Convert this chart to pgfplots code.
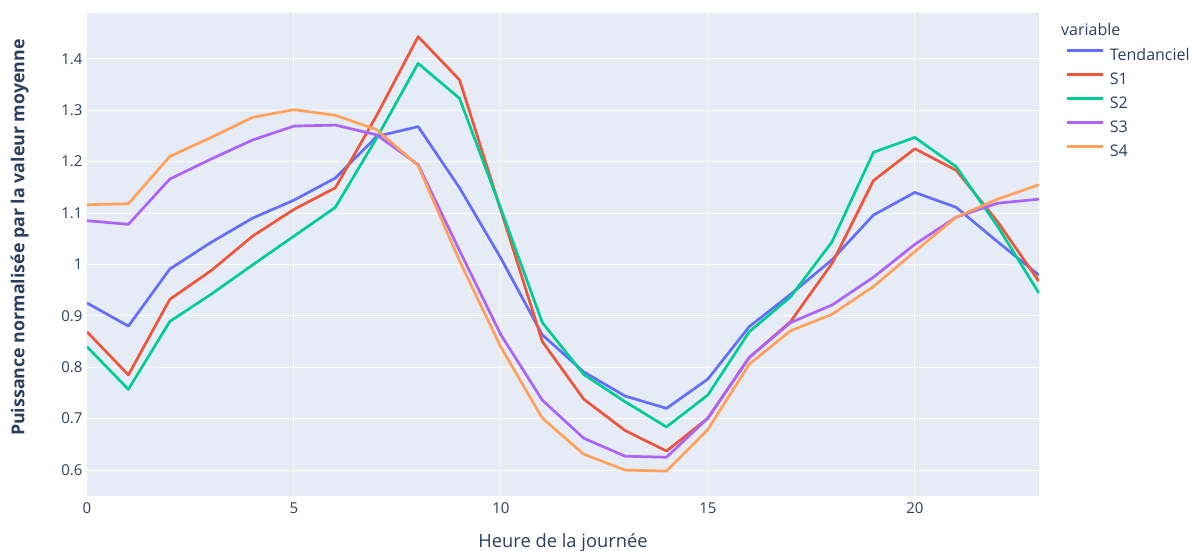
\documentclass[border=0pt]{standalone}
\usepackage{fontspec}
\setmainfont{Open Sans}
\usepackage{pgfplots}
\usepackage{pgfplotstable}
\pgfplotsset{compat=1.18}
\definecolor{pbg}{HTML}{E5ECF6}
\definecolor{ptext}{HTML}{2A3F5F}
\definecolor{cT}{HTML}{636EFA}
\definecolor{cA}{HTML}{EF553B}
\definecolor{cB}{HTML}{00CC96}
\definecolor{cC}{HTML}{AB63FA}
\definecolor{cD}{HTML}{FFA15A}
\pgfplotstableread{
x T S1 S2 S3 S4
0 0.925 0.869 0.840 1.085 1.116
1 0.880 0.785 0.757 1.078 1.118
2 0.991 0.932 0.889 1.166 1.210
3 1.043 0.988 0.942 1.205 1.247
4 1.090 1.055 0.999 1.242 1.286
5 1.125 1.107 1.055 1.269 1.301
6 1.168 1.149 1.111 1.271 1.290
7 1.249 1.290 1.246 1.252 1.262
8 1.268 1.443 1.391 1.194 1.192
9 1.149 1.359 1.323 1.027 1.007
10 1.012 1.105 1.108 0.863 0.839
11 0.863 0.850 0.887 0.736 0.701
12 0.791 0.738 0.786 0.662 0.631
13 0.744 0.677 0.733 0.627 0.600
14 0.720 0.637 0.684 0.625 0.598
15 0.777 0.701 0.746 0.701 0.679
16 0.879 0.819 0.869 0.819 0.806
17 0.942 0.889 0.937 0.887 0.871
18 1.009 1.002 1.044 0.921 0.903
19 1.096 1.163 1.218 0.975 0.957
20 1.140 1.225 1.247 1.039 1.025
21 1.111 1.183 1.190 1.092 1.092
22 1.044 1.083 1.074 1.119 1.127
23 0.979 0.967 0.944 1.127 1.155
}\data
\begin{document}
\begin{tikzpicture}
\useasboundingbox (-87pt,-55pt) rectangle (1108pt,496pt);
\begin{axis}[
  name=ax,
  at={(0,0)}, anchor=south west,
  scale only axis, width=952pt, height=483pt,
  xmin=0, xmax=23, ymin=0.5496, ymax=1.489,
  axis background/.style={fill=pbg},
  axis line style={draw=none},
  tick style={draw=none},
  grid=major,
  major grid style={white, line width=1pt},
  xtick={0,5,10,15,20},
  ytick={0.6,0.7,0.8,0.9,1,1.1,1.2,1.3,1.4},
  yticklabels={0.6,0.7,0.8,0.9,1,1.1,1.2,1.3,1.4},
  /pgf/number format/assume math mode=true,
  tick label style={font=\fontsize{15}{18}\selectfont, text=ptext},
  x tick label style={inner sep=0pt, anchor=north, yshift=-6.3pt},
  y tick label style={inner sep=0pt, anchor=east, xshift=-4.3pt},
  xlabel={Heure de la journée},
  ylabel={Puissance normalisée par la valeur moyenne},
  xlabel style={font=\fontsize{18.3}{22}\selectfont, text=ptext, at={(axis description cs:0.5,-0.107)}, anchor=base, inner sep=0pt},
  ylabel style={font=\fontsize{17.8}{21}\selectfont\bfseries, text=ptext, at={(axis description cs:-0.0657,0.535)}, anchor=base, inner sep=0pt},
  legend style={at={(1,1)}, anchor=north west, xshift=26pt, yshift=-36pt,
    draw=none, fill=none, inner sep=0pt, row sep=10pt,
    font=\fontsize{16}{19}\selectfont, text=ptext,
    nodes={inner sep=0pt, text height=11pt, text depth=3pt}},
  legend cell align=left,
  legend image code/.code={\draw[#1] (0pt,5.7pt) -- (36pt,5.7pt);},
  every axis plot/.append style={line width=2.7pt, line join=round},
]
\addplot[cT] table[x=x, y=T] {\data};
\addlegendentry{\hspace{6pt}Tendanciel}
\addplot[cA] table[x=x, y=S1] {\data};
\addlegendentry{\hspace{6pt}S1}
\addplot[cB] table[x=x, y=S2] {\data};
\addlegendentry{\hspace{6pt}S2}
\addplot[cC] table[x=x, y=S3] {\data};
\addlegendentry{\hspace{6pt}S3}
\addplot[cD] table[x=x, y=S4] {\data};
\addlegendentry{\hspace{6pt}S4}
\end{axis}
\node[anchor=base west, inner sep=0pt, text=ptext, font=\fontsize{16}{19}\selectfont] at ([xshift=22pt,yshift=-22.7pt]ax.north east) {variable};
\end{tikzpicture}
\end{document}
